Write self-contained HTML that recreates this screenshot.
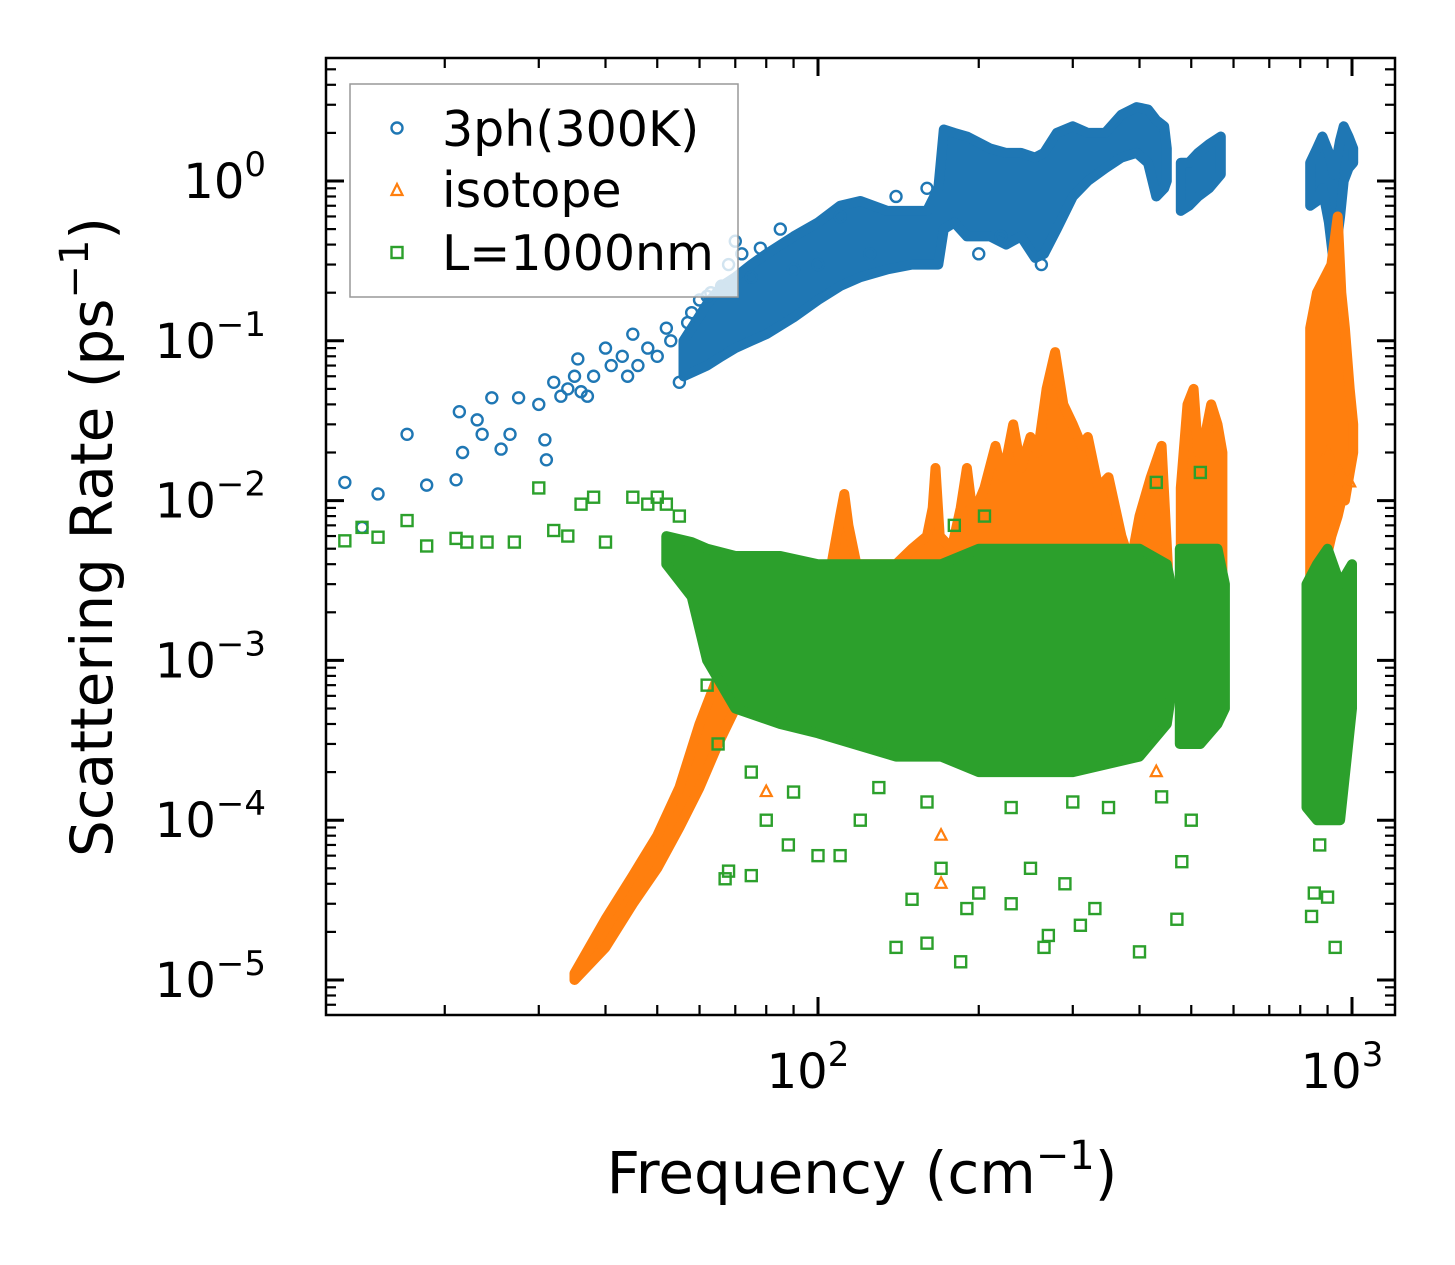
<!DOCTYPE html>
<html><head><meta charset="utf-8"><style>
html,body{margin:0;padding:0;background:#fff;}
svg{display:block;font-family:"DejaVu Sans","Liberation Sans",sans-serif;}
</style></head><body>
<svg id="chart" width="1455" height="1265" viewBox="0 0 1455 1265" xmlns="http://www.w3.org/2000/svg" style="position:absolute;left:0;top:0">
<rect x="0" y="0" width="1455" height="1265" fill="#fff"/>
<g id="marks"></g>
<g id="axes"></g>
</svg>
<script>
// ---- data ----
const xTickValues = [100, 1000];
const xTickLabels = ["10", "10"];
const xTickExps = ["2", "3"];
const yTickValues = [1, 0.1, 0.01, 0.001, 0.0001, 0.00001];
const yTickExps = ["0", "−1", "−2", "−3", "−4", "−5"];

// dense clouds: [freq, low, high]
const blueBand1 = [[56,.06,.10],[62,.07,.17],[66,.08,.22],[70,.09,.25],[75,.1,.3],[80,.11,.35],[90,.14,.45],[100,.18,.55],[110,.22,.7],[120,.25,.75],[135,.28,.65],[150,.3,.65],[160,.3,.65],[168,.3,.9],[172,.5,2.1],[180,.55,2.0],[190,.45,1.9],[210,.45,1.6],[225,.4,1.5],[240,.45,1.5],[255,.33,1.4],[265,.35,1.5],[280,.5,2.0],[300,.8,2.2],[320,1.0,2.0],[345,1.2,2.0],[370,1.4,2.6],[395,1.5,2.9],[415,1.3,2.8],[430,.8,2.4],[445,.9,2.2],[450,1.0,1.6]];
const blueBand2 = [[478,.65,1.3],[495,.7,1.3],[515,.8,1.5],[540,.9,1.7],[568,1.1,1.9]];
const blueBand3 = [[835,.7,1.3],[860,.75,1.6],[880,.9,1.9],[905,.55,1.5],[925,.3,1.1],[950,.6,1.8],[965,1.0,2.2],[985,1.2,1.9],[1005,1.3,1.6]];
const orangeBand1 = [[35,1e-5,1.1e-5],[40,1.6e-5,2.4e-5],[45,3e-5,4.5e-5],[50,5e-5,8e-5],[55,9e-5,1.6e-4],[60,1.6e-4,4e-4],[65,3e-4,8e-4],[70,5e-4,2.5e-3],[80,8e-4,3e-3],[100,1e-3,3e-3],[106,1e-3,4e-3],[110,1e-3,8e-3],[112,1e-3,1.1e-2],[114,1e-3,7e-3],[118,1e-3,4e-3],[140,1e-3,4e-3],[150,1e-3,5e-3],[160,1e-3,6e-3],[164,1e-3,9e-3],[166,1e-3,1.6e-2],[169,1e-3,6e-3],[178,1e-3,5e-3],[185,1e-3,9e-3],[190,1e-3,1.6e-2],[195,1e-3,8e-3],[205,1e-3,1.2e-2],[215,1e-3,2.2e-2],[222,1e-3,1.4e-2],[232,1e-3,3e-2],[240,1e-3,1.6e-2],[250,1e-3,2.5e-2],[258,1e-3,2e-2],[268,1e-3,5e-2],[278,1e-3,8.5e-2],[288,1e-3,4e-2],[300,1e-3,3e-2],[312,1e-3,2.2e-2],[320,1e-3,2.5e-2],[335,1e-3,1.2e-2],[350,1e-3,1.4e-2],[370,1e-3,6e-3],[385,1e-3,4e-3],[400,1e-3,8e-3],[420,1e-3,1.4e-2],[440,1e-3,2.2e-2],[452,1e-3,4e-3]];
const orangeBand2 = [[478,2e-3,1.2e-2],[492,2e-3,4e-2],[505,2e-3,5e-2],[515,2e-3,2e-2],[530,2e-3,2.5e-2],[545,2e-3,4e-2],[560,2e-3,3e-2],[572,2e-3,2e-2]];
const orangeBand3 = [[835,2e-3,0.12],[860,3e-3,0.2],[890,4e-3,0.25],[915,6e-3,0.3],[940,8e-3,0.6],[955,1e-2,0.2],[970,1e-2,0.12],[990,1.5e-2,0.05],[1005,2e-2,0.03]];
const greenBand1 = [[52,4e-3,6e-3],[58,2.5e-3,5.5e-3],[62,1e-3,5e-3],[70,5e-4,4.5e-3],[85,4e-4,4.5e-3],[100,3.5e-4,4e-3],[140,2.5e-4,4e-3],[170,2.5e-4,4e-3],[200,2e-4,5e-3],[300,2e-4,5e-3],[400,2.5e-4,5e-3],[450,4e-4,4e-3],[458,6e-4,3e-3]];
const greenBand2 = [[476,3e-4,5e-3],[520,3e-4,5e-3],[560,4e-4,5e-3],[578,5e-4,3e-3]];
const greenBand3 = [[822,1.2e-4,3e-3],[860,1e-4,4e-3],[900,1e-4,5e-3],[950,1e-4,3e-3],[1000,5e-4,4e-3]];

// scattered points: [freq, value]
const bluePoints = [[13,.013],[14,.0068],[15,.011],[17,.026],[18.5,.0125],[21,.0135],[21.3,.036],[21.6,.02],[23,.032],[23.5,.026],[24.5,.044],[25.5,.021],[26.5,.026],[27.5,.044],[30,.04],[30.8,.024],[31,.018],[32,.055],[33,.045],[34,.05],[35,.06],[35.5,.077],[36,.048],[37,.045],[38,.06],[40,.09],[41,.07],[43,.08],[44,.06],[45,.11],[46,.07],[48,.09],[50,.08],[52,.12],[55,.055],[53,.1],[57,.13],[58,.15],[60,.18],[62,.19],[63,.2],[66,.22],[68,.3],[70,.42],[72,.35],[75,.25],[78,.38],[85,.5],[90,.28],[100,.3],[110,.6],[125,.35],[140,.8],[160,.9],[200,.35],[220,.45],[262,.3]];
const orangePoints = [[80,1.5e-4],[170,4e-5],[170,8e-5],[380,3e-4],[430,2e-4],[900,2e-2],[880,3e-3],[930,1e-3],[950,1.5e-2],[990,1.3e-2]];
const greenPoints = [[13,.0056],[14,.0068],[15,.0059],[17,.0075],[18.5,.0052],[21,.0058],[22,.0055],[24,.0055],[27,.0055],[30,.012],[32,.0065],[34,.006],[36,.0095],[38,.0105],[40,.0055],[45,.0105],[48,.0095],[50,.0105],[52,.0095],[55,.008],[57,.0045],[60,.003],[62,.0007],[65,.0003],[67,4.3e-5],[68,4.8e-5],[75,4.5e-5],[80,1e-4],[88,7e-5],[100,6e-5],[110,6e-5],[120,1e-4],[150,3.2e-5],[140,1.6e-5],[160,1.7e-5],[170,5e-5],[185,1.3e-5],[190,2.8e-5],[200,3.5e-5],[230,3e-5],[250,5e-5],[265,1.6e-5],[270,1.9e-5],[290,4e-5],[310,2.2e-5],[330,2.8e-5],[400,1.5e-5],[470,2.4e-5],[480,5.5e-5],[520,1.5e-2],[430,1.3e-2],[840,2.5e-5],[850,3.5e-5],[900,3.3e-5],[930,1.6e-5],[870,7e-5],[205,8e-3],[180,7e-3],[75,2e-4],[90,1.5e-4],[130,1.6e-4],[160,1.3e-4],[230,1.2e-4],[300,1.3e-4],[350,1.2e-4],[440,1.4e-4],[500,1e-4]];

// ---- scales ----
const L=326,R=1395,T=58,B=1015;
const X0=818, XD=534;
const Y0=181, YD=159.8;
function xs(f){return X0+(Math.log10(f)-2)*XD;}
function ys(v){return Y0-Math.log10(v)*YD;}
const NS="http://www.w3.org/2000/svg";
function mk(tag,attrs,parent){const e=document.createElementNS(NS,tag);for(const k in attrs)e.setAttribute(k,attrs[k]);parent.appendChild(e);return e;}
const marks=document.getElementById('marks');
const axes=document.getElementById('axes');
const C={b:"#1f77b4",o:"#ff7f0e",g:"#2ca02c"};

function band(arr,color,name){
  const top=arr.map(d=>xs(d[0]).toFixed(1)+","+ys(d[2]).toFixed(1));
  const bot=arr.slice().reverse().map(d=>xs(d[0]).toFixed(1)+","+ys(d[1]).toFixed(1));
  const p=mk('polygon',{points:top.concat(bot).join(" "),fill:color,stroke:color,"stroke-width":10,"stroke-linejoin":"round"},marks);
  
  
}
function circles(arr,name){const g=mk('g',{},marks);
  
  
  arr.forEach(d=>mk('circle',{cx:xs(d[0]),cy:ys(d[1]),r:5.5,fill:"none",stroke:C.b,"stroke-width":2.4},g));}
function tris(arr,name){const g=mk('g',{},marks);
  
  
  arr.forEach(d=>{const x=xs(d[0]),y=ys(d[1]);mk('polygon',{points:`${x},${y-6.5} ${x-5.5},${y+4} ${x+5.5},${y+4}`,fill:"none",stroke:C.o,"stroke-width":2.2},g);});}
function squares(arr,name){const g=mk('g',{},marks);
  
  
  arr.forEach(d=>mk('rect',{x:xs(d[0])-5.5,y:ys(d[1])-5.5,width:11,height:11,fill:"none",stroke:C.g,"stroke-width":2.4},g));}

band(blueBand1,C.b,'3ph-cloud-low');band(blueBand2,C.b,'3ph-cloud-mid');band(blueBand3,C.b,'3ph-cloud-high');
circles(bluePoints,'3ph-points');
band(orangeBand1,C.o,'isotope-cloud-low');band(orangeBand2,C.o,'isotope-cloud-mid');band(orangeBand3,C.o,'isotope-cloud-high');
tris(orangePoints,'isotope-points');
band(greenBand1,C.g,'boundary-cloud-low');band(greenBand2,C.g,'boundary-cloud-mid');band(greenBand3,C.g,'boundary-cloud-high');
squares(greenPoints,'boundary-points');

// ---- axes frame ----
const frame=mk('rect',{x:L,y:T,width:R-L,height:B-T,fill:"none",stroke:"#000","stroke-width":2.5},axes);


for(let d=1;d<=3;d++){for(let m=1;m<10;m++){const f=m*Math.pow(10,d);const x=xs(f);if(x<L||x>R)continue;const len=m===1?18:10;const w=m===1?3:2.2;
  mk('line',{x1:x,y1:B,x2:x,y2:B-len,stroke:"#000","stroke-width":w},axes);
  mk('line',{x1:x,y1:T,x2:x,y2:T+len,stroke:"#000","stroke-width":w},axes);}}
for(let d=-6;d<=1;d++){for(let m=1;m<10;m++){const v=m*Math.pow(10,d);const y=ys(v);if(y<T||y>B)continue;const len=m===1?18:10;const w=m===1?3:2.2;
  mk('line',{x1:L,y1:y,x2:L+len,y2:y,stroke:"#000","stroke-width":w},axes);
  mk('line',{x1:R,y1:y,x2:R-len,y2:y,stroke:"#000","stroke-width":w},axes);}}
xTickValues.forEach((v,i)=>{const t=mk('text',{x:xs(v)-10,y:1088,"font-size":48,"text-anchor":"middle"},axes);
  
  
  t.textContent=xTickLabels[i];const s=mk('tspan',{dy:-22,"font-size":34},t);s.textContent=xTickExps[i];});
yTickValues.forEach((v,i)=>{const t=mk('text',{x:266,y:ys(v)+17,"font-size":48,"text-anchor":"end"},axes);
  
  
  t.textContent="10";const s=mk('tspan',{dy:-22,"font-size":34},t);s.textContent=yTickExps[i];});
</script>
<svg style="position:absolute;left:0;top:0" width="1455" height="1265">
<text x="862" y="1193" font-size="58" text-anchor="middle" font-family="DejaVu Sans, Liberation Sans, sans-serif">Frequency (cm<tspan dy="-24" font-size="40">−1</tspan><tspan dy="24">)</tspan></text>
<text transform="translate(112,537) rotate(-90)" font-size="58" text-anchor="middle" font-family="DejaVu Sans, Liberation Sans, sans-serif">Scattering Rate (ps<tspan dy="-24" font-size="40">−1</tspan><tspan dy="24">)</tspan></text>
<g font-family="DejaVu Sans, Liberation Sans, sans-serif" font-size="49">
<rect x="350" y="84" width="388" height="213" fill="#fff" fill-opacity="0.8" stroke="#999" stroke-width="1.5"/>
<g><circle cx="397" cy="128" r="5.5" fill="none" stroke="#1f77b4" stroke-width="2.4"/><text x="442" y="146">3ph(300K)</text></g>
<g><polygon points="397,184 391.5,195 402.5,195" fill="none" stroke="#ff7f0e" stroke-width="2.2"/><text x="442" y="207">isotope</text></g>
<g><rect x="391.5" y="247" width="11" height="11" fill="none" stroke="#2ca02c" stroke-width="2.4"/><text x="442" y="270">L=1000nm</text></g>
</g>
</svg>
</body></html>
